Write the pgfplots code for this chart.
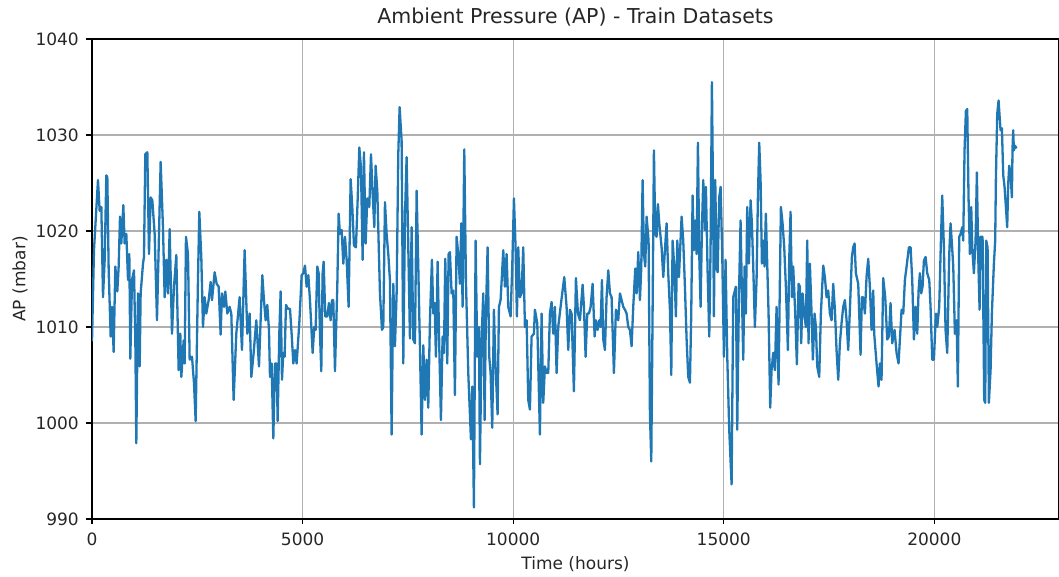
\documentclass[border=0pt]{standalone}
\usepackage{fontspec}
\setmainfont{DejaVu Sans}
\usepackage{pgfplots}
\pgfplotsset{compat=1.18}
\definecolor{mplblue}{HTML}{1F77B4}
\definecolor{mplgrid}{HTML}{B0B0B0}

\begin{document}
\begin{tikzpicture}
\begin{axis}[
  scale only axis, width=967pt, height=480pt,
  xmin=0, xmax=22960, ymin=990, ymax=1040,
  xtick={0,5000,10000,15000,20000},
  ytick={990,1000,1010,1020,1030,1040},
  scaled x ticks=false,
  /pgf/number format/assume math mode=true,
  /pgf/number format/set thousands separator={},
  tick label style={font=\fontsize{17}{20}\selectfont, text=black!85},
  label style={font=\fontsize{17}{20}\selectfont, text=black!85},
  title style={font=\fontsize{20.5}{24}\selectfont, text=black!85, at={(axis description cs:0.5,1.034)}, anchor=center},
  title={Ambient Pressure (AP) - Train Datasets},
  xlabel={Time (hours)}, ylabel={AP (mbar)},
  xlabel style={at={(axis description cs:0.5,-0.094)}, anchor=center},
  ylabel style={at={(axis description cs:-0.0745,0.5)}, anchor=center, rotate=0},
  xticklabel style={inner sep=0pt, anchor=north, yshift=-8.5pt},
  yticklabel style={inner sep=0pt, anchor=east, xshift=-7.5pt},
  tick align=outside, major tick length=5.5pt,
  xtick pos=bottom, ytick pos=left,
  axis line style={line width=1.2pt},
  every tick/.style={black, line width=1.2pt},
  grid=major, grid style={mplgrid, line width=1.2pt},
]
\coordinate (bl) at (rel axis cs:0,0);
\coordinate (tr) at (rel axis cs:1,1);
\addplot[mplblue, line width=2.3pt, line join=round, mark=none] coordinates {
(0,1008.5) (47,1018.0) (142,1025.3) (182,1022.1) (222,1022.5) (261,1013.1) (301,1017.0)
(340,1025.8) (364,1025.6) (396,1015.9) (443,1009.0) (475,1012.1) (514,1007.4) (554,1016.3)
(601,1013.7) (633,1016.3) (665,1021.5) (696,1018.7) (744,1022.7) (775,1018.7) (815,1019.7)
(855,1014.9) (886,1017.6) (910,1006.7) (950,1014.9) (997,1015.9) (1029,1008.6) (1052,997.9)
(1092,1013.5) (1132,1005.9) (1155,1013.5) (1211,1016.6) (1234,1017.3) (1266,1028.0) (1314,1028.2)
(1353,1017.6) (1393,1023.5) (1432,1023.2) (1488,1019.7) (1543,1010.7) (1591,1019.7) (1630,1027.2)
(1685,1020.4) (1725,1013.1) (1765,1017.0) (1804,1013.5) (1844,1020.2) (1899,1009.3) (1947,1014.2)
(2002,1017.5) (2057,1005.5) (2097,1009.3) (2121,1004.8) (2176,1008.6) (2200,1006.2) (2231,1019.4)
(2279,1017.6) (2319,1006.6) (2374,1006.9) (2421,1004.2) (2461,1000.2) (2516,1014.9) (2548,1022.0)
(2595,1017.3) (2635,1010.0) (2675,1013.1) (2714,1011.4) (2770,1012.8) (2817,1014.7) (2849,1012.8)
(2912,1015.7) (2960,1014.5) (3007,1014.2) (3054,1009.2) (3086,1013.5) (3134,1012.1) (3165,1013.7)
(3213,1011.4) (3268,1012.1) (3308,1011.4) (3363,1002.4) (3426,1009.3) (3505,1013.1) (3561,1007.6)
(3624,1018.0) (3688,1009.3) (3743,1011.4) (3783,1004.8) (3838,1007.3) (3901,1010.7) (3965,1005.9)
(4004,1010.7) (4044,1015.4) (4083,1012.8) (4123,1010.7) (4162,1012.3) (4202,1009.7) (4226,1004.8)
(4265,1006.2) (4305,998.4) (4344,1006.2) (4384,1006.2) (4408,1000.2) (4447,1009.3) (4479,1013.7)
(4511,1004.5) (4542,1007.3) (4574,1006.9) (4606,1012.3) (4653,1011.9) (4701,1011.9) (4740,1009.3)
(4780,1006.2) (4819,1007.6) (4859,1006.2) (4922,1010.4) (4978,1015.4) (5017,1015.6) (5057,1016.4)
(5096,1014.2) (5136,1015.4) (5175,1012.8) (5239,1007.3) (5278,1010.0) (5310,1009.7) (5349,1016.3)
(5381,1015.6) (5413,1009.3) (5444,1005.4) (5476,1015.6) (5500,1016.8) (5539,1011.1) (5587,1011.1)
(5626,1012.5) (5666,1010.7) (5698,1012.8) (5729,1012.8) (5769,1005.4) (5824,1014.2) (5856,1021.8)
(5887,1019.7) (5927,1020.1) (5967,1016.6) (6006,1019.4) (6046,1017.0) (6093,1012.1) (6141,1025.4)
(6180,1022.5) (6220,1018.5) (6267,1018.3) (6307,1023.2) (6347,1028.7) (6386,1026.6) (6426,1017.0)
(6457,1028.2) (6497,1018.7) (6536,1023.4) (6584,1022.5) (6624,1028.0) (6663,1023.9) (6703,1020.4)
(6734,1026.8) (6774,1024.2) (6837,1013.5) (6885,1009.7) (6916,1010.0) (6956,1023.0) (6995,1019.7)
(7035,1017.6) (7074,1014.9) (7114,998.8) (7154,1014.5) (7193,1008.0) (7233,1013.5) (7272,1028.0)
(7304,1032.9) (7351,1029.4) (7391,1006.2) (7431,1021.5) (7470,1027.7) (7518,1016.3) (7549,1008.8)
(7589,1020.4) (7629,1008.7) (7668,1008.3) (7708,1024.2) (7747,1016.3) (7786,1008.0) (7826,998.8)
(7866,1008.1) (7905,1002.4) (7945,1006.6) (7984,1001.6) (8024,1010.7) (8071,1017.0) (8103,1011.4)
(8135,1012.5) (8166,1006.9) (8206,1016.8) (8245,1008.0) (8285,1000.3) (8324,1009.0) (8356,1007.3)
(8388,1017.1) (8435,1006.2) (8467,1017.6) (8499,1017.8) (8538,1013.5) (8578,1013.8) (8617,1002.9)
(8657,1019.4) (8696,1017.6) (8736,1014.5) (8768,1020.8) (8799,1012.1) (8839,1028.5) (8878,1014.9)
(8934,1005.2) (8997,998.3) (9029,1003.8) (9068,991.2) (9108,1019.0) (9147,1006.9) (9187,1010.0)
(9211,995.7) (9250,1008.7) (9290,1013.5) (9322,1000.3) (9353,1011.4) (9393,1018.3) (9432,1006.9)
(9464,1005.2) (9503,999.5) (9543,1011.8) (9575,1006.6) (9630,1000.9) (9662,1012.1) (9701,1012.8)
(9725,1014.7) (9765,1018.0) (9804,1014.2) (9844,1017.6) (9883,1012.1) (9939,1011.1) (9978,1016.3)
(10018,1023.4) (10057,1018.3) (10089,1011.1) (10121,1018.3) (10160,1013.1) (10200,1013.5) (10239,1018.3)
(10279,1010.0) (10319,1010.7) (10358,1002.4) (10398,1001.4) (10437,1009.0) (10493,1009.3) (10516,1011.8)
(10572,1010.4) (10635,998.8) (10675,1011.4) (10714,1002.1) (10754,1005.9) (10793,1005.2) (10833,1005.2)
(10872,1011.4) (10912,1012.6) (10952,1009.3) (10991,1012.1) (11031,1005.2) (11070,1010.0) (11126,1012.1)
(11173,1013.8) (11213,1015.2) (11268,1012.1) (11308,1007.6) (11347,1011.8) (11387,1011.4) (11442,1003.3)
(11490,1015.1) (11538,1011.4) (11585,1010.7) (11649,1014.4) (11680,1012.1) (11720,1006.9) (11759,1011.4)
(11799,1011.4) (11839,1012.1) (11886,1014.5) (11934,1009.0) (11965,1010.7) (12005,1009.7) (12044,1010.7)
(12076,1010.0) (12108,1014.9) (12139,1008.7) (12179,1007.6) (12218,1013.1) (12258,1015.9) (12298,1013.5)
(12337,1013.1) (12392,1005.2) (12440,1011.8) (12495,1010.7) (12535,1013.5) (12575,1012.8) (12614,1012.1)
(12654,1011.8) (12693,1011.4) (12733,1010.0) (12772,1009.7) (12812,1008.0) (12851,1012.1) (12899,1016.1)
(12931,1013.5) (12970,1017.8) (13010,1012.8) (13041,1016.1) (13073,1025.3) (13105,1017.6) (13136,1016.3)
(13168,1021.5) (13215,1019.0) (13247,1001.0) (13279,996.0) (13310,1011.4) (13342,1028.4) (13374,1019.7)
(13405,1019.4) (13437,1022.8) (13469,1020.8) (13524,1018.3) (13564,1015.2) (13603,1018.0) (13643,1020.8)
(13682,1015.6) (13722,1011.8) (13754,1005.0) (13785,1019.0) (13825,1016.3) (13864,1011.1) (13896,1019.0)
(13936,1015.2) (13967,1018.3) (13999,1021.5) (14038,1019.0) (14078,1014.2) (14118,1008.7) (14157,1004.8)
(14197,1004.2) (14228,1011.4) (14260,1023.7) (14292,1018.0) (14323,1021.1) (14355,1017.6) (14387,1029.2)
(14418,1017.6) (14450,1012.1) (14481,1020.1) (14513,1025.3) (14553,1020.1) (14576,1024.6) (14616,1015.9)
(14656,1009.0) (14687,1018.3) (14719,1035.5) (14751,1021.1) (14766,1011.1) (14798,1025.3) (14830,1016.3)
(14854,1015.7) (14893,1023.5) (14925,1024.6) (14964,1017.6) (15004,1006.9) (15043,1017.0) (15083,1006.9)
(15130,999.3) (15186,993.6) (15225,1013.1) (15288,1014.2) (15320,999.3) (15360,1013.1) (15399,1021.1)
(15431,1013.5) (15463,1006.6) (15494,1016.3) (15526,1011.4) (15557,1022.5) (15597,1016.6) (15637,1023.2)
(15668,1020.8) (15700,1016.3) (15739,1010.0) (15779,1014.9) (15811,1023.5) (15842,1029.2) (15874,1025.3)
(15906,1016.6) (15937,1019.0) (15969,1016.3) (15999,1021.8) (16032,1016.6) (16064,1011.4) (16103,1001.6)
(16135,1005.5) (16175,1007.3) (16214,1005.5) (16254,1012.1) (16301,1004.0) (16333,1014.9) (16357,1022.5)
(16396,1020.8) (16436,1018.3) (16475,1014.2) (16523,1007.6) (16554,1017.0) (16586,1022.0) (16618,1013.1)
(16649,1016.3) (16697,1011.4) (16736,1006.1) (16776,1014.5) (16808,1014.2) (16839,1008.3) (16871,1013.5)
(16911,1011.4) (16950,1010.0) (16982,1019.0) (17013,1008.3) (17045,1016.6) (17085,1011.4) (17116,1006.6)
(17156,1011.4) (17188,1010.0) (17219,1005.9) (17267,1004.8) (17306,1011.4) (17362,1016.4) (17401,1015.2)
(17441,1013.1) (17480,1013.8) (17520,1011.4) (17560,1010.7) (17599,1014.5) (17639,1011.8) (17678,1007.6)
(17718,1004.5) (17757,1008.3) (17797,1010.4) (17836,1012.1) (17876,1012.8) (17916,1010.7) (17955,1007.6)
(17995,1011.8) (18042,1017.3) (18074,1018.3) (18106,1018.7) (18137,1015.6) (18193,1014.5) (18248,1007.1)
(18280,1013.1) (18311,1013.1) (18351,1011.4) (18390,1015.2) (18430,1017.1) (18469,1014.2) (18509,1009.7)
(18549,1013.8) (18572,1009.3) (18628,1006.2) (18675,1003.8) (18707,1006.2) (18746,1004.5) (18786,1015.1)
(18834,1013.1) (18881,1008.7) (18921,1009.0) (18960,1012.5) (19000,1008.3) (19055,1009.7) (19103,1007.3)
(19150,1006.2) (19222,1011.8) (19262,1011.4) (19301,1014.9) (19341,1016.3) (19396,1018.3) (19436,1018.3)
(19475,1014.9) (19515,1008.7) (19554,1012.1) (19594,1009.3) (19626,1013.8) (19657,1015.6) (19689,1013.5)
(19720,1014.2) (19752,1016.9) (19792,1017.3) (19831,1015.6) (19879,1014.9) (19910,1012.1) (19950,1006.6)
(19990,1006.6) (20037,1011.4) (20069,1010.0) (20116,1012.1) (20156,1019.0) (20187,1023.7) (20227,1018.3)
(20266,1009.7) (20306,1007.3) (20354,1017.6) (20385,1020.8) (20417,1018.7) (20449,1016.3) (20488,1009.3)
(20528,1010.7) (20559,1003.8) (20591,1019.4) (20623,1019.7) (20662,1020.4) (20686,1019.0) (20717,1028.4)
(20749,1032.5) (20781,1032.7) (20812,1023.5) (20844,1017.6) (20876,1022.5) (20900,1018.3) (20939,1015.6)
(20979,1019.0) (21010,1026.1) (21042,1017.3) (21074,1011.8) (21097,1019.4) (21145,1019.4) (21184,1002.4)
(21208,1002.1) (21232,1019.0) (21264,1018.3) (21295,1002.1) (21335,1005.5) (21366,1011.4) (21414,1016.6)
(21445,1019.0) (21461,1025.3) (21493,1032.2) (21525,1033.6) (21572,1030.5) (21604,1030.7) (21636,1025.8)
(21667,1024.6) (21699,1022.5) (21730,1020.4) (21754,1024.9) (21778,1026.8) (21810,1025.9) (21841,1023.5)
(21857,1028.7) (21873,1030.5) (21888,1028.4) (21912,1028.9) (21952,1028.6)
};
\end{axis}
\pgfresetboundingbox
\path[use as bounding box] ([xshift=-92pt,yshift=-58pt]bl) rectangle ([yshift=39pt]tr);
\end{tikzpicture}
\end{document}
